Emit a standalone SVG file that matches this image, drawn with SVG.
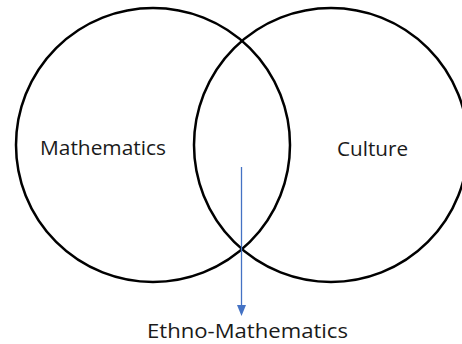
<svg xmlns="http://www.w3.org/2000/svg" width="462" height="344" viewBox="0 0 462 344">
<defs>
<style>
.c{fill:none;stroke:#000;stroke-width:2.5}
.t{font-family:"Open Sans","Liberation Sans",sans-serif;font-size:20px;fill:#1a1a1a}
.a{stroke:#4472C4;stroke-width:1.3;fill:none}
</style>
<marker id="ah" viewBox="0 0 10 10" refX="10" refY="5" markerWidth="8" markerHeight="8" markerUnits="userSpaceOnUse" orient="auto">
<path d="M0,0 L10,5 L0,10 Z" fill="#4472C4"/>
</marker>
</defs>
<rect width="462" height="344" fill="#fff"/>
<g id="mathematics">
<circle class="c" cx="153" cy="145" r="137"/>
<text class="t" x="40" y="155" textLength="126" lengthAdjust="spacingAndGlyphs">Mathematics</text>
</g>
<g id="culture">
<circle class="c" cx="331" cy="145" r="137"/>
<text class="t" x="337" y="156" textLength="71" lengthAdjust="spacingAndGlyphs">Culture</text>
</g>
<g id="connectors">
<path class="a" d="M241.5,167 V306" />
<path d="M237,305 L246,305 L241.5,316 Z" fill="#4472C4"/>
</g>
<g id="ethno-mathematics">
<text class="t" x="147" y="338" textLength="201" lengthAdjust="spacingAndGlyphs">Ethno-Mathematics</text>
</g>
</svg>
